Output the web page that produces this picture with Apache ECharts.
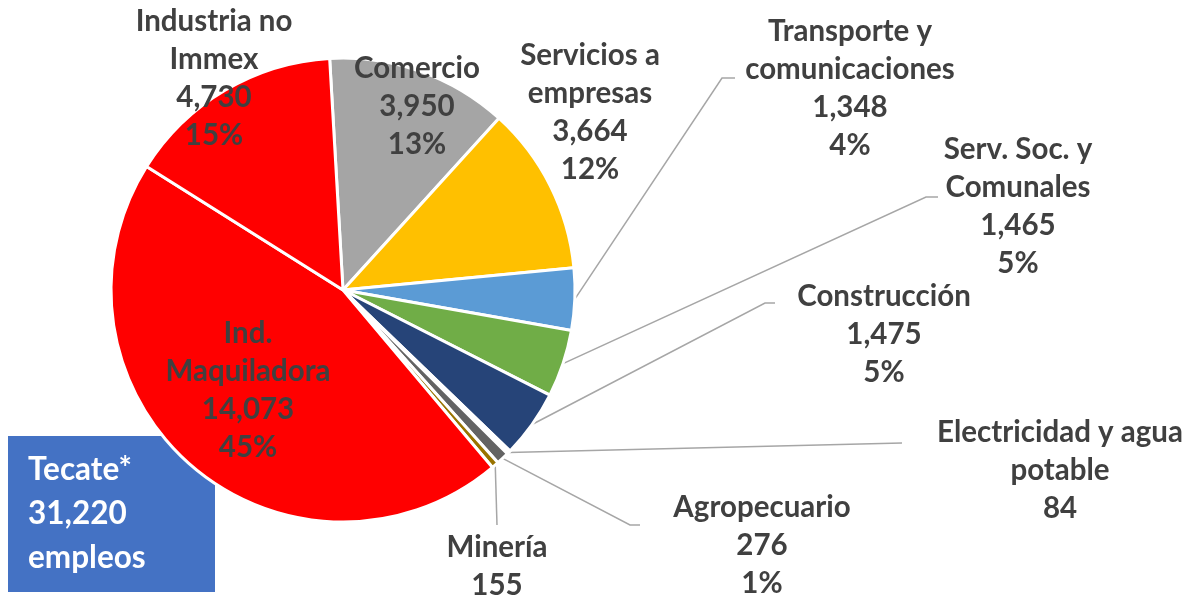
<!DOCTYPE html>
<html><head><meta charset="utf-8">
<script src="https://cdn.jsdelivr.net/npm/echarts@6/dist/echarts.min.js"></script>
<style>html,body{margin:0;padding:0;background:#fff}#c{width:1186px;height:602px}</style>
</head><body><div id="c"></div>
<script>
// ---- data ----
const categories = ['Comercio', 'Servicios a\nempresas', 'Transporte y\ncomunicaciones', 'Serv. Soc. y\nComunales',
  'Construcción', 'Electricidad y agua\npotable', 'Agropecuario', 'Minería', 'Ind.\nMaquiladora', 'Industria no\nImmex'];
const values = [3950, 3664, 1348, 1465, 1475, 84, 276, 155, 14073, 4730];
const boxTitle = 'Tecate*';
const boxUnit = 'empleos';

// ---- styles / layout ----
const colors = ['#A5A5A5', '#FFC000', '#5B9BD5', '#70AD47', '#264478', '#FFFFFF', '#636363', '#997300', '#FF0000', '#FF0000'];
const labelPos = [[417,106],[590,112],[850,88],[1018,206],[884,334],[1060,470],[762,545],[497,566],[248,390],[214,78]];
const lineBend = [null, null, [[722,78],[735,78]], [[926,197],[938,197]], [[765,303],[775,303]],
  [[902,443],[902,443]], [[630,525],[640,525]], [[497,525],[497,525]], null, null];

const fmt = v => v.toLocaleString('en-US');
const total = values.reduce((a, b) => a + b, 0);

const chart = echarts.init(document.getElementById('c'));
chart.setOption({
  animation: false,
  backgroundColor: '#fff',
  series: [{
    type: 'pie',
    center: [343, 290],
    radius: 232,
    startAngle: 93.3,
    clockwise: true,
    avoidLabelOverlap: false,
    percentPrecision: 0,
    emphasis: { disabled: true },
    itemStyle: { borderColor: '#fff', borderWidth: 3 },
    label: {
      show: true,
      position: 'outside',
      formatter: p => p.name + '\n' + fmt(p.value) + (p.percent >= 1 ? '\n' + p.percent + '%' : ''),
      color: '#404040',
      fontFamily: 'Lato',
      fontWeight: 'bold',
      fontSize: 29.5,
      lineHeight: 38,
      align: 'center'
    },
    labelLine: { show: true, length: 10, length2: 10, lineStyle: { color: '#A6A6A6', width: 1.5 } },
    labelLayout: function (p) {
      const i = p.dataIndex;
      const r = { x: labelPos[i][0], y: labelPos[i][1], align: 'center', verticalAlign: 'middle' };
      if (lineBend[i] && p.labelLinePoints) {
        r.labelLinePoints = [p.labelLinePoints[0], lineBend[i][0], lineBend[i][1]];
      }
      return r;
    },
    data: categories.map((n, i) => ({
      name: n, value: values[i],
      itemStyle: { color: colors[i] },
      labelLine: { show: !!lineBend[i] }
    }))
  }],
  graphic: [{
    type: 'group', left: 8, top: 436,
    children: [
      { type: 'rect', shape: { x: 0, y: 0, width: 207, height: 156 }, style: { fill: '#4472C4' } },
      { type: 'text', x: 20, y: 12, style: {
        text: boxTitle + '\n' + fmt(total) + '\n' + boxUnit,
        fill: '#fff', font: 'bold 31.5px Lato', lineHeight: 44 } }
    ]
  }]
});
</script></body></html>
